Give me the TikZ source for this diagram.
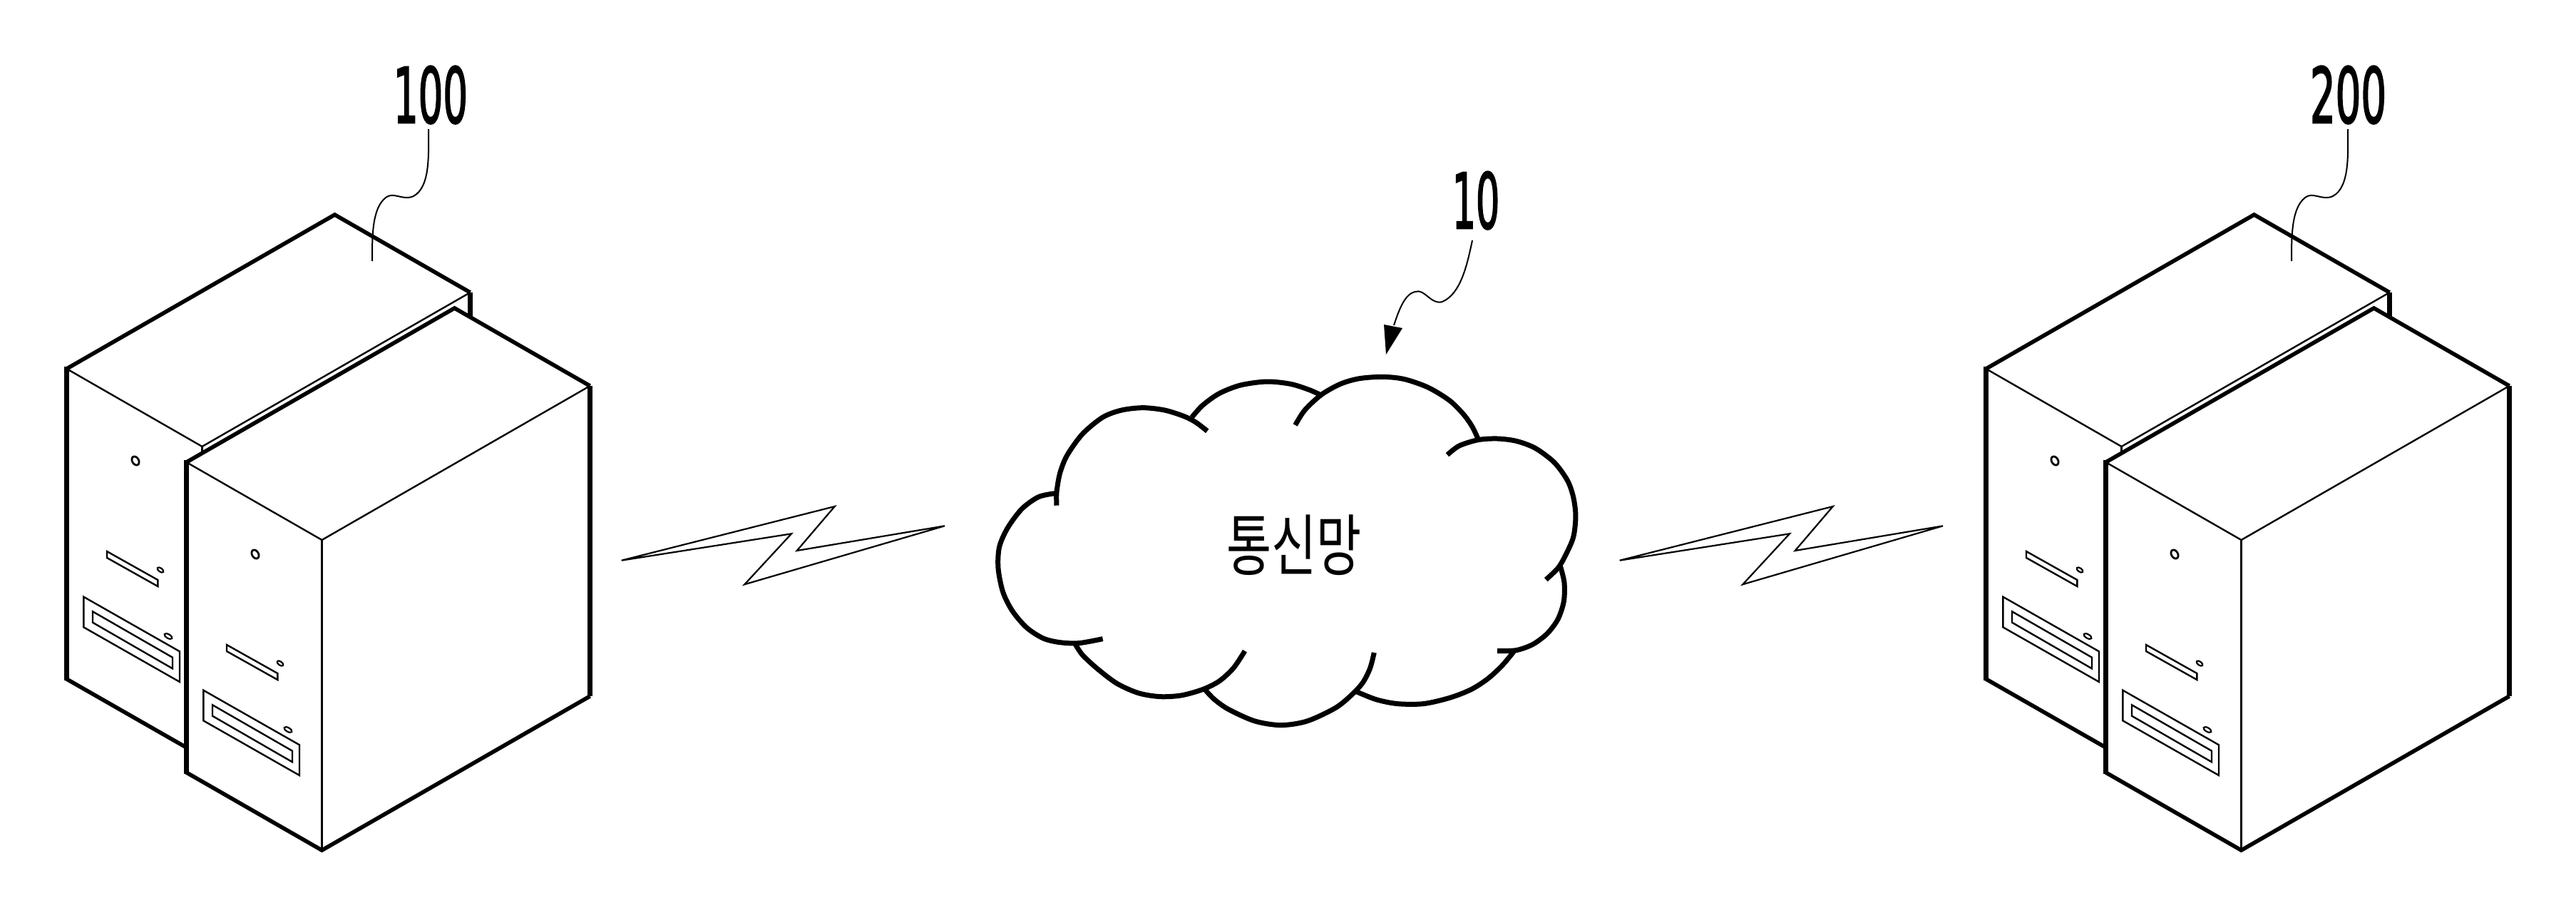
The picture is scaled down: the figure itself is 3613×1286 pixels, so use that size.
\documentclass[tikz,border=0pt]{standalone}
\usepackage{graphicx}
\usepackage{fontspec}
\setmainfont{DejaVu Sans}
\newfontfamily\krfont{Noto Sans CJK KR}
\newfontfamily\numfont[FakeBold=2.5]{DejaVu Sans}
\tikzset{
  edgeline/.style={line width=5.6pt,line join=miter,line cap=butt},
  postline/.style={line width=7.6pt,line cap=butt},
  thinline/.style={line width=2.4pt,line join=miter},
  cloudarc/.style={line width=7pt,line cap=butt},
  leader/.style={line width=2pt},
  bolt/.style={line width=2.2pt,line join=miter,miter limit=6},
  reflabel/.style={anchor=base,inner sep=0pt,font=\numfont\fontsize{107}{107}\selectfont},
  caselabel/.style={anchor=center,inner sep=0pt,font=\krfont\fontsize{94}{94}\selectfont},
  serverface/.pic={
    \draw[thinline] (56.5,256) -- (127.8,296) -- (127.8,305) -- (56.5,265) -- cycle;
    \draw[thinline] (23.8,319.7) -- (158.5,396.3) -- (158.5,439) -- (23.8,362.3) -- cycle;
    \draw[thinline] (36.5,340.3) -- (148.5,404.7) -- (148.5,420.3) -- (36.5,355.7) -- cycle;
    \draw[line width=2.8pt] (96.5,129) ellipse [x radius=4.5pt,y radius=6.5pt,rotate=30];
    \draw[line width=2.2pt] (131.5,282) ellipse [x radius=5pt,y radius=2.6pt,rotate=-35];
    \draw[line width=2.2pt] (142.5,375) ellipse [x radius=6pt,y radius=2.8pt,rotate=-30];
  },
  serverback/.pic={
    \fill[white] (0,0) -- (376,-216) -- (566,-107) -- (566,-71) -- (168,531) -- (0,435) -- cycle;
    \draw[edgeline] (0,0) -- (376,-216) -- (566,-107);
    \draw[edgeline] (0,435) -- (168,531);
    \draw[postline] (0,-3) -- (0,437);
    \draw[postline] (566,-107) -- (566,-71);
    \draw[thinline] (0,0) -- (190,109) -- (566,-107);
    \draw[thinline] (190,109) -- (190,130);
    \pic {serverface};
  },
  serverfront/.pic={
    \fill[white] (0,0) -- (376,-216) -- (566,-107) -- (566,328) -- (190,544) -- (0,435) -- cycle;
    \draw[edgeline] (0,0) -- (376,-216) -- (566,-107);
    \draw[edgeline] (0,435) -- (190,544) -- (566,328);
    \draw[postline] (0,-3) -- (0,437);
    \draw[postline] (566,-107) -- (566,328);
    \draw[thinline] (0,0) -- (190,109) -- (566,-107);
    \draw[thinline] (190,109) -- (190,544);
    \pic {serverface};
  },
}
\begin{document}
\begin{tikzpicture}[x=1pt,y=-1pt]
\useasboundingbox (0,0) rectangle (3613,1286);
\fill[white] (0,0) rectangle (3613,1286);

% left server pair
\pic at (93.5,517) {serverback};
\pic at (261.5,648) {serverfront};
% right server pair
\pic at (2785.5,517) {serverback};
\pic at (2953.5,648) {serverfront};

% labels
\node[reflabel] (label100) at (604,172) {\scalebox{0.51}[1]{100}};
\node[reflabel] (label200) at (3293.5,172) {\scalebox{0.525}[1]{200}};
\node[reflabel] (label10) at (2070,320) {\scalebox{0.49}[1]{10}};

% leaders
\coordinate (lead100) at (522,366);
\coordinate (lead200) at (3214,366);
\coordinate (lead10) at (1944,497);
\draw[leader] (601,181) .. controls (601,215) and (604,262) .. (580,275) .. controls (565,282) and (552,268) .. (541,277) .. controls (522,292) and (522,330) .. (lead100);
\draw[leader] (3293,181) .. controls (3293,215) and (3296,262) .. (3272,275) .. controls (3257,282) and (3244,268) .. (3233,277) .. controls (3214,292) and (3214,330) .. (lead200);
\draw[leader] (2065,337) .. controls (2057,375) and (2048,412) .. (2023,423) .. controls (2007,428) and (1998,404) .. (1985,409) .. controls (1970,412) and (1962,435) .. (1955,456);
\fill (lead10) -- (1941,455) -- (1967,460) -- cycle;

% cloud, left part
\begin{scope}[shift={(1390,510)},x=0.3333pt,y=-0.3333pt]
\draw[cloudarc] plot[smooth] coordinates {(270,545) (200,560) (130,610) (70,690) (35,770) (30,860) (50,960) (90,1040) (150,1110) (220,1155) (290,1172) (370,1175) (470,1157)};
\draw[cloudarc] plot[smooth] coordinates {(276,596) (276,540) (290,460) (320,385) (385,295) (470,225) (550,195) (640,185) (730,195) (810,220) (860,245) (910,283)};
\draw[cloudarc] plot[smooth] coordinates {(845,225) (890,175) (960,125) (1050,90) (1160,75) (1260,85) (1340,110) (1395,135)};
\draw[cloudarc] plot[smooth] coordinates {(1068,1208) (1020,1280) (960,1335) (890,1370) (800,1395) (710,1400) (620,1385) (530,1345) (450,1285) (385,1225) (355,1180)};
\end{scope}
% cloud, right part
\begin{scope}[shift={(1790,510)},x=0.3333pt,y=-0.3333pt]
\draw[cloudarc] plot[smooth] coordinates {(80,258) (120,195) (190,130) (270,85) (350,62) (450,55) (540,65) (640,100) (730,155) (790,215) (825,265) (848,313)};
\draw[cloudarc] plot[smooth] coordinates {(720,383) (770,345) (850,320) (930,315) (1010,325) (1090,355) (1170,415) (1225,490) (1250,560) (1260,640) (1250,730) (1215,810) (1185,860) (1135,908)};
\draw[cloudarc] plot[smooth] coordinates {(1195,850) (1212,920) (1210,1000) (1185,1075) (1140,1135) (1080,1180) (1010,1205) (930,1208)};
\draw[cloudarc] plot[smooth] coordinates {(1000,1210) (950,1270) (890,1325) (820,1370) (730,1405) (620,1430) (510,1430) (420,1412) (335,1378)};
\draw[cloudarc] plot[smooth] coordinates {(412,1215) (395,1280) (365,1340) (320,1390) (250,1447) (130,1503) (20,1520) (-90,1503) (-200,1454) (-260,1412) (-305,1365)};
\end{scope}
\node[caselabel] (network) at (1815,764) {\scalebox{0.73}[1]{통신망}};

% lightning bolts
\draw[bolt] (871.7,785.7) -- (1170.7,710) -- (1117.7,772) -- (1325,737.3) -- (1044.3,819.3) -- (1110,748.3) -- cycle;
\draw[bolt,shift={(1400,0)}] (871.7,785.7) -- (1170.7,710) -- (1117.7,772) -- (1325,737.3) -- (1044.3,819.3) -- (1110,748.3) -- cycle;
\end{tikzpicture}
\end{document}
